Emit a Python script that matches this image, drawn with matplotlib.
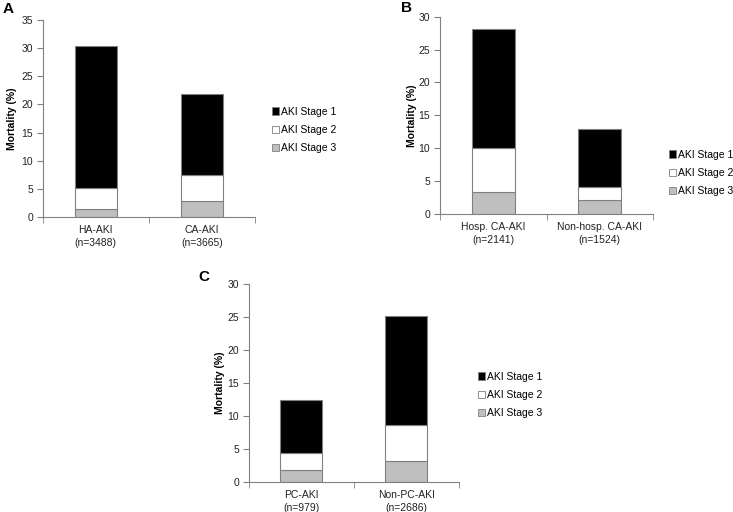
import matplotlib
matplotlib.use("Agg")
import matplotlib.pyplot as plt
from matplotlib.patches import Patch
import numpy as np

plt.rcParams['font.family'] = ['Liberation Sans', 'DejaVu Sans']

stages = ["AKI Stage 1", "AKI Stage 2", "AKI Stage 3"]
colors = {"AKI Stage 1": "#000000", "AKI Stage 2": "#ffffff", "AKI Stage 3": "#bfbfbf"}

# cumulative tops: stage3 (bottom), stage2 top, stage1 top
a_cats = ["HA-AKI\n(n=3488)", "CA-AKI\n(n=3665)"]
a_stage3 = [1.4, 2.9]
a_stage2_top = [5.1, 7.5]
a_stage1_top = [30.3, 21.9]

b_cats = ["Hosp. CA-AKI\n(n=2141)", "Non-hosp. CA-AKI\n(n=1524)"]
b_stage3 = [3.3, 2.2]
b_stage2_top = [10.0, 4.1]
b_stage1_top = [28.2, 12.9]

c_cats = ["PC-AKI\n(n=979)", "Non-PC-AKI\n(n=2686)"]
c_stage3 = [1.8, 3.2]
c_stage2_top = [4.4, 8.7]
c_stage1_top = [12.5, 25.2]

W, H = 733, 512
fig = plt.figure(figsize=(W / 100, H / 100), dpi=100)

def px_axes(l, r, top, bot):
    return fig.add_axes([l / W, 1 - bot / H, (r - l) / W, (bot - top) / H])

def panel(ax, cats, s3, s2t, s1t, ymax, letter, letter_xy, ylab_x, leg_xy):
    x = np.arange(len(cats))
    s3 = np.array(s3); s2 = np.array(s2t) - s3; s1 = np.array(s1t) - np.array(s2t)
    ec = "#808080"
    ax.bar(x, s3, width=0.4, color=colors["AKI Stage 3"], edgecolor=ec, linewidth=0.8)
    ax.bar(x, s2, bottom=s3, width=0.4, color=colors["AKI Stage 2"], edgecolor=ec, linewidth=0.8)
    ax.bar(x, s1, bottom=s3 + s2, width=0.4, color=colors["AKI Stage 1"], edgecolor=ec, linewidth=0.8)
    ax.set_xlim(-0.5, len(cats) - 0.5)
    ax.set_ylim(0, ymax)
    ax.set_yticks(np.arange(0, ymax + 0.1, 5))
    ax.set_xticks(x)
    ax.set_xticklabels(cats, fontsize=7.5, color="#222222", linespacing=1.45)
    ax.set_xticks(np.arange(-0.5, len(cats)), minor=True)
    ax.tick_params(axis='x', which='major', length=0, pad=5.5)
    ax.tick_params(axis='x', which='minor', length=4, color="#808080", direction='out')
    ax.tick_params(axis='y', length=4, color="#808080", labelsize=7.5, labelcolor="#222222", pad=3)
    for s in ["top", "right"]:
        ax.spines[s].set_visible(False)
    for s in ["left", "bottom"]:
        ax.spines[s].set_color("#808080")
        ax.spines[s].set_linewidth(0.8)
    ax.set_ylabel("Mortality (%)", fontsize=7.5, fontweight='bold')
    ax.yaxis.set_label_coords(ylab_x, 0.5)
    fig.text(letter_xy[0] / W, 1 - letter_xy[1] / H, letter, fontsize=11, fontweight='bold',
             va='center', ha='left')
    handles = [Patch(facecolor=colors[s], edgecolor="#808080", linewidth=0.6, label=s) for s in stages]
    fig.legend(handles=handles, loc='center left', bbox_to_anchor=(leg_xy[0] / W, 1 - leg_xy[1] / H),
               frameon=False, fontsize=7.5, handlelength=0.7, handleheight=0.7,
               handletextpad=0.15, labelspacing=0.8, borderaxespad=0, borderpad=0)
    return ax

axA = px_axes(42.7, 255, 20, 217)
panel(axA, a_cats, a_stage3, a_stage2_top, a_stage1_top, 35, "A", (3, 9), -0.119, (272, 130))

axB = px_axes(440, 653, 16.7, 214)
panel(axB, b_cats, b_stage3, b_stage2_top, b_stage1_top, 30, "B", (401, 8), -0.106, (669, 173))

axC = px_axes(248.7, 459, 284, 482)
panel(axC, c_cats, c_stage3, c_stage2_top, c_stage1_top, 30, "C", (198, 277), -0.115, (478, 395))

fig.savefig("out.png", dpi=100)
